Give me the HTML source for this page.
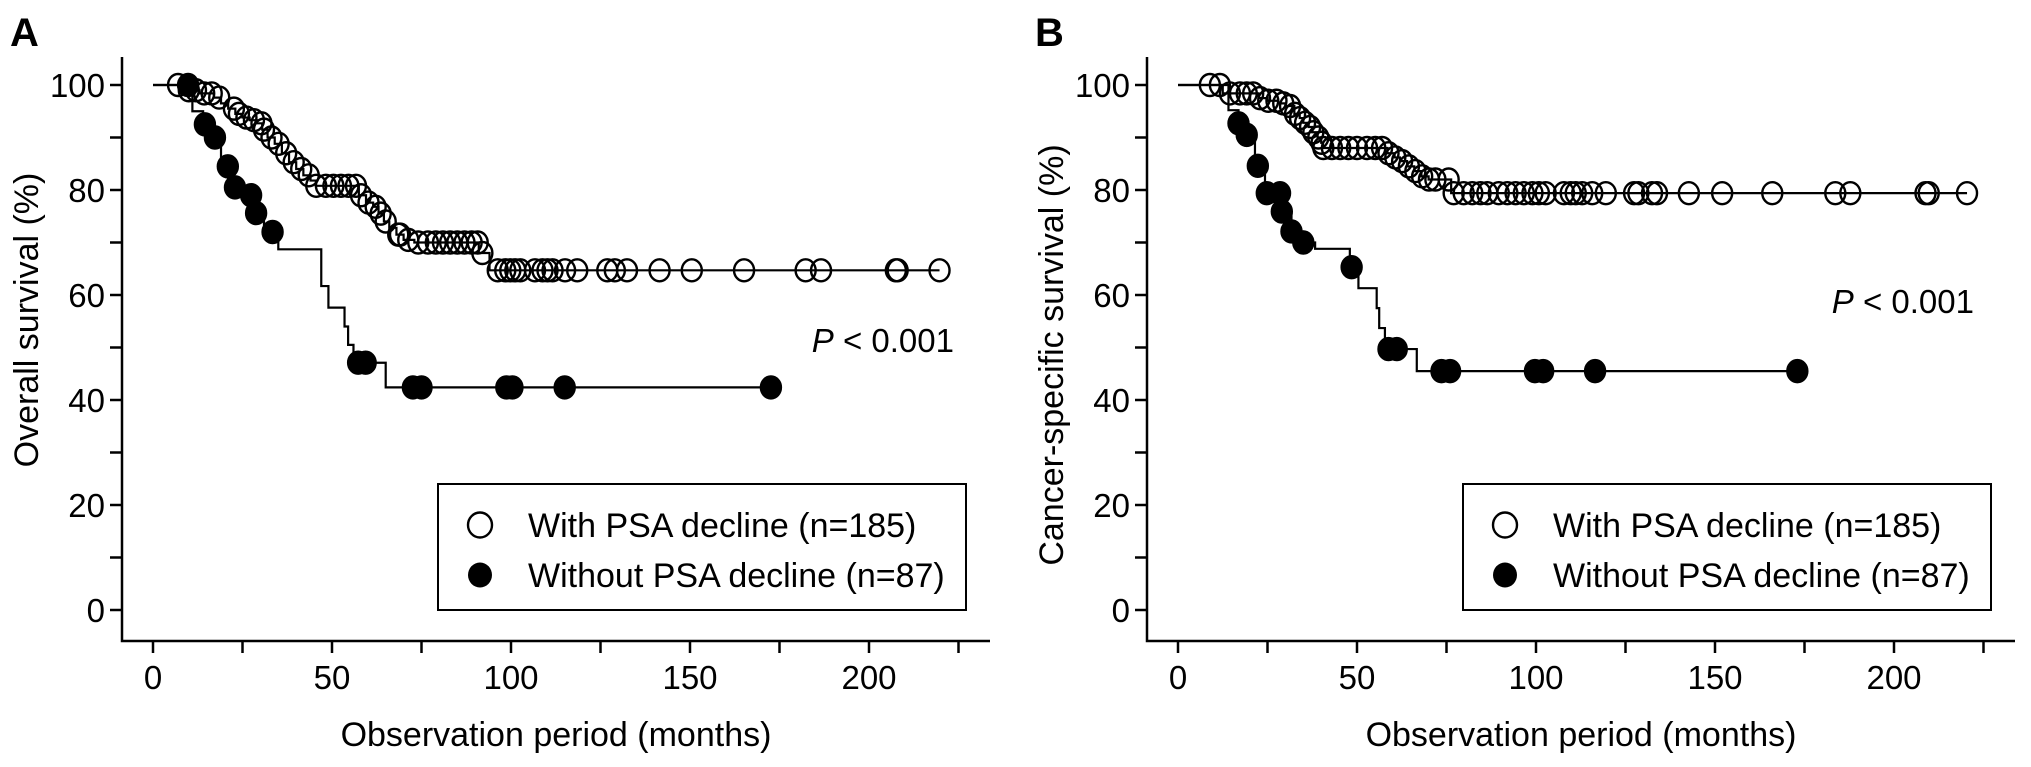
<!DOCTYPE html>
<html><head><meta charset="utf-8"><style>
html,body{margin:0;padding:0;background:#fff;}
svg{display:block;font-family:"Liberation Sans",Arial,sans-serif;}
</style></head><body>
<svg id="fig" width="2031" height="767" viewBox="0 0 2031 767">
</svg>
<script>
// ---------- Panel A data (Overall survival) ----------
const aOpenStepT=[0,9,13,17,19,21,23,25,27,29,30.5,32,34,36,38,40,42,44,45.5,57.5,59.5,61.5,63,64.5,66,68,70,73,91,94];
const aOpenStepS=[100,99,98.4,97.6,96.5,95.5,94.5,93.8,93.3,92.7,91.5,90,88.8,87,85.3,84,82.8,81.8,80.8,79,77.6,76.8,75.5,74,72.8,71.5,70.5,70,68,64.7];
const aOpenCens=[7,10,12,14.3,16.4,18.5,22.6,24,26.1,28.2,30.3,31,33.1,35.1,37.2,39.3,41.4,43.5,45.6,48.3,50.4,52.5,54.6,56.7,58.1,60.2,62.2,63.6,65,68.5,69,71.3,74.1,76.8,79,81,83,85,87,89,90.7,92,96.3,98.4,99.8,101.2,102.6,106.7,108.8,110.2,111.6,115.1,118.5,126.9,129,132.4,141.5,150.5,165.1,182.3,186.6,207.5,208,219.7];
const aClosedStepT=[0,11,14,16,19,21,24,28,31,35,47,49,53.5,54.5,56,65];
const aClosedStepS=[100,95,92.5,90,84.5,80.5,79,75.6,72,68.7,61.7,57.6,54,50.5,47.1,42.4];
const aClosedCens=[9.8,14.5,17.3,20.9,22.9,27.4,28.8,33.4,57.3,59.4,72.6,75,98.7,100.4,115,172.6];
// ---------- Panel B data (Cancer-specific survival) ----------
const bOpenStepT=[0,12.5,22.5,25,28,30,32.5,34,35,36.5,37.5,39,40,40.5,58.5,60.5,62,64,66,68,70,76.3];
const bOpenStepS=[100,98.4,97.5,97,96.5,96,94.5,93.7,92.8,92,91,90,89,88,87,86.2,85.5,84.5,83.6,82.6,82,79.4];
const bOpenCens=[8.9,11.7,14.5,17.3,19.2,21,22.9,25.2,27.5,29.4,31.3,32.7,34.1,35.5,36.9,37.8,39.2,40.1,40.6,43,45.3,47.6,50,52.8,55.1,57,58.8,60.7,62.6,64.5,66.3,68.2,70.1,71.9,75.6,77,79.8,82.2,84.5,86.4,89.6,92,94.3,96.6,99,100.8,102.7,107.8,109.7,111.1,112.9,115.7,119.5,127.4,128.6,132.4,133.8,142.7,152,166,183.6,187.8,208.8,209.7,220.4];
const bClosedStepT=[0,14.1,16.9,19.2,21.5,24.3,29,31.7,35,38.3,48,50.4,55.5,56.2,57.8,66.7];
const bClosedStepS=[100,95.2,92.7,90.5,84.6,79.4,75.9,72.1,70,68.8,65.3,61.3,57.5,53.7,49.7,45.5];
const bClosedCens=[16.9,19.2,22.3,24.8,28.5,29,31.7,35,48.5,58.8,61.1,73.6,76,99.7,102,116.5,173];
// ---------- axis ticks ----------
const xTicks=[0,50,100,150,200];
const xMinor=[25,75,125,175,225];
const yTicks=[0,20,40,60,80,100];
const yMinor=[10,30,50,70,90];

const NS="http://www.w3.org/2000/svg";
const svg=document.getElementById('fig');
function mk(tag,attrs,parent){const e=document.createElementNS(NS,tag);for(const k in attrs)e.setAttribute(k,attrs[k]);(parent||svg).appendChild(e);return e;}
function survAt(T,S,t){let v=S[0];for(let i=0;i<T.length;i++){if(T[i]<=t)v=S[i];}return v;}

function panel(off,letter,ytitle,openT,openS,openC,closedT,closedS,closedC,pX,pY){
  const g=mk('g',{});
  
  
  const x=m=>off+153+m*3.58;
  const y=v=>610-v*5.25;
  const axL=off+122, axB=641;
  const ax=mk('path',{d:`M${axL},57 L${axL},${axB} L${off+990},${axB}`,fill:'none',stroke:'#000','stroke-width':2.5},g);
  
  
  xTicks.concat(xMinor).forEach(t=>{mk('line',{x1:x(t),x2:x(t),y1:axB,y2:axB+12,stroke:'#000','stroke-width':2.5},g);});
  xTicks.forEach(t=>{const tx=mk('text',{x:x(t),y:689,'font-size':33,'text-anchor':'middle'},g);tx.textContent=t;
    
    });
  yTicks.concat(yMinor).forEach(t=>{mk('line',{x1:axL-12,x2:axL,y1:y(t),y2:y(t),stroke:'#000','stroke-width':2.5},g);});
  yTicks.forEach(t=>{const tx=mk('text',{x:axL-17,y:y(t)+12,'font-size':33,'text-anchor':'end'},g);tx.textContent=t;
    
    });
  const xt=mk('text',{x:off+556,y:746,'font-size':34,'text-anchor':'middle'},g);xt.textContent='Observation period (months)';
  
  
  const yt=mk('text',{x:0,y:0,'font-size':34,'text-anchor':'middle',transform:`translate(${off+38},${ytitle[1]}) rotate(-90)`},g);yt.textContent=ytitle[0];
  
  
  const lt=mk('text',{x:off+10,y:46,'font-size':40,'font-weight':'bold'},g);lt.textContent=letter;
  
  
  function curve(T,S,C,filled,name){
    const end=Math.max(...C);
    let d=`M${x(T[0])},${y(S[0])}`;
    for(let i=1;i<T.length;i++){d+=` L${x(T[i])},${y(S[i-1])} L${x(T[i])},${y(S[i])}`;}
    d+=` L${x(end)},${y(S[S.length-1])}`;
    const p=mk('path',{d:d,fill:'none',stroke:'#000','stroke-width':2.2},g);
    
    
    C.forEach(t=>{
      const c=mk('ellipse',{cx:x(t),cy:y(survAt(T,S,t)),rx:10,ry:11,fill:filled?'#000':'none',stroke:'#000','stroke-width':2.4},g);
      
      
    });
  }
  curve(openT,openS,openC,false,'with-psa-decline');
  curve(closedT,closedS,closedC,true,'without-psa-decline');
  const pv=mk('text',{x:pX,y:pY,'font-size':33,'text-anchor':'end'},g);
  pv.innerHTML='<tspan font-style="italic">P</tspan> &lt; 0.001';
  
  
  const lg=mk('g',{},g);
  
  
  mk('rect',{x:off+438,y:484,width:528,height:126,fill:'#fff',stroke:'#000','stroke-width':2},lg);
  mk('ellipse',{cx:off+480,cy:525,rx:12,ry:12.5,fill:'none',stroke:'#000','stroke-width':2.4},lg);
  mk('ellipse',{cx:off+480,cy:575,rx:12,ry:12.5,fill:'#000'},lg);
  const l1=mk('text',{x:off+528,y:537,'font-size':34},lg);l1.textContent='With PSA decline (n=185)';
  
  
  const l2=mk('text',{x:off+528,y:587,'font-size':34},lg);l2.textContent='Without PSA decline (n=87)';
  
  
}
panel(0,'A',['Overall survival (%)',320],aOpenStepT,aOpenStepS,aOpenCens,aClosedStepT,aClosedStepS,aClosedCens,954,352);
panel(1025,'B',['Cancer-specific survival (%)',355],bOpenStepT,bOpenStepS,bOpenCens,bClosedStepT,bClosedStepS,bClosedCens,1974,313);
</script>
</body></html>
